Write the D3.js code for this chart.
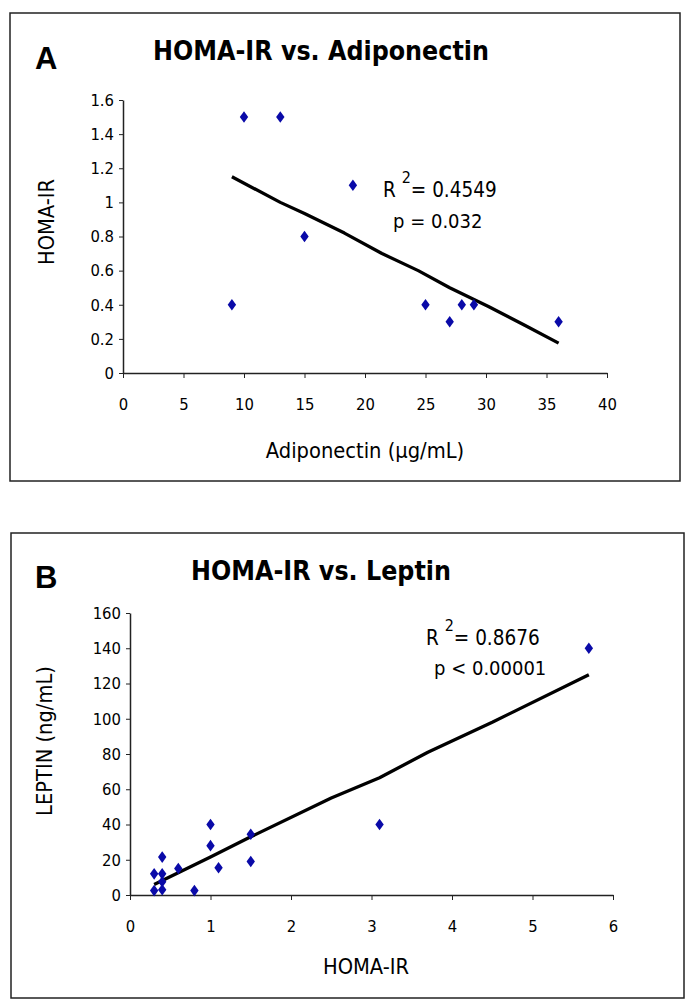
<!DOCTYPE html>
<html>
<head>
<meta charset="utf-8">
<script src="https://cdn.jsdelivr.net/npm/d3@7"></script>
<style>
  body { margin: 0; background: #fff; }
  svg { display: block; }
  text { font-family: "Liberation Sans Narrow", "DejaVu Sans Condensed", "Liberation Sans", sans-serif; fill: #000; }
</style>
</head>
<body>
<svg id="chart" width="688" height="1005"></svg>
<script>
// ---- Panel A data: HOMA-IR vs. Adiponectin ----
const adipoX = [9, 10, 13, 15, 19, 25, 27, 28, 29, 36];
const homaA  = [0.4, 1.5, 1.5, 0.8, 1.1, 0.4, 0.3, 0.4, 0.4, 0.3];
const trendAX = [9, 13, 15, 18.3, 21.4, 24.4, 27, 30.2, 33.2, 36];
const trendAY = [1.15, 1.0, 0.935, 0.82, 0.70, 0.60, 0.50, 0.39, 0.28, 0.175];
const ticksAX = [0, 5, 10, 15, 20, 25, 30, 35, 40];
const ticksAY = [0, 0.2, 0.4, 0.6, 0.8, 1, 1.2, 1.4, 1.6];

// ---- Panel B data: HOMA-IR vs. Leptin ----
const homaB   = [0.3, 0.3, 0.4, 0.4, 0.4, 0.4, 0.6, 0.8, 1.0, 1.0, 1.1, 1.5, 1.5, 3.1, 5.7];
const leptinB = [12, 2.5, 21.5, 12, 7.5, 3, 15, 2.5, 40, 28, 15.5, 34.5, 19, 40, 140];
const trendBX = [0.3, 1.0, 1.5, 2.5, 3.1, 3.7, 4.5, 5.7];
const trendBY = [6, 21.5, 33, 55, 66.5, 81, 98, 125];
const ticksBX = [0, 1, 2, 3, 4, 5, 6];
const ticksBY = [0, 20, 40, 60, 80, 100, 120, 140, 160];

const svg = d3.select("#chart");
const markerColor = "#0a0aa8";
const fontStack = '"Liberation Sans Narrow", "DejaVu Sans Condensed", "Liberation Sans", sans-serif';

function panel(cfg) {
  const g = svg.append("g");
  // frame
  g.append("rect").attr("x", cfg.frame[0]).attr("y", cfg.frame[1])
    .attr("width", cfg.frame[2] - cfg.frame[0]).attr("height", cfg.frame[3] - cfg.frame[1])
    .attr("fill", "none").attr("stroke", "#222").attr("stroke-width", 1.5);

  const x = d3.scaleLinear().domain(cfg.xDomain).range(cfg.xRange);
  const y = d3.scaleLinear().domain(cfg.yDomain).range(cfg.yRange);

  // x axis
  const xa = g.append("g").attr("transform", `translate(0,${cfg.yRange[0]})`)
    .call(d3.axisBottom(x).tickValues(cfg.xTicks).tickSize(5).tickSizeOuter(0).tickPadding(16).tickFormat(d3.format("")));
  // y axis
  const ya = g.append("g").attr("transform", `translate(${cfg.xRange[0]},0)`)
    .call(d3.axisLeft(y).tickValues(cfg.yTicks).tickSize(4).tickSizeOuter(0).tickPadding(5).tickFormat(d3.format("")));
  [xa, ya].forEach(a => {
    a.select(".domain").attr("stroke", "#222").attr("stroke-width", 1.5);
    a.selectAll(".tick line").attr("stroke", "#222").attr("stroke-width", 1);
    a.selectAll(".tick text").attr("font-size", 16.5).attr("fill", "#000")
      .style("font-family", fontStack);
  });
  xa.selectAll(".tick text").attr("dy", "0.95em");

  // trend line
  const line = d3.line().x(d => x(d[0])).y(d => y(d[1]));
  g.append("path").datum(cfg.trendX.map((v, i) => [v, cfg.trendY[i]]))
    .attr("d", line).attr("fill", "none").attr("stroke", "#000").attr("stroke-width", 3.3)
    .attr("stroke-linejoin", "round");

  // points (diamonds)
  g.selectAll("path.pt").data(cfg.px.map((v, i) => [v, cfg.py[i]])).enter()
    .append("path").attr("class", "pt")
    .attr("d", "M0,-5.8L4.2,0L0,5.8L-4.2,0Z")
    .attr("transform", d => `translate(${x(d[0])},${y(d[1])})`)
    .attr("fill", markerColor);

  // letter
  g.append("text").attr("x", 35).attr("y", cfg.letterY).text(cfg.letter)
    .attr("font-size", 31).attr("font-weight", "bold")
    .style("font-family", '"Liberation Sans", sans-serif');
  // title
  g.append("text").attr("x", cfg.titleX).attr("y", cfg.titleY).attr("text-anchor", "middle")
    .attr("font-size", 26.5).attr("font-weight", "bold").text(cfg.title);
  // axis labels
  g.append("text").attr("x", cfg.xLabelX).attr("y", cfg.xLabelY).attr("text-anchor", "middle")
    .attr("font-size", 21.7).text(cfg.xLabel);
  g.append("text").attr("transform", `translate(${cfg.yLabelX},${cfg.yLabelY}) rotate(-90)`)
    .attr("text-anchor", "middle").attr("font-size", 21.7).text(cfg.yLabel);

  // stats text
  const r = g.append("text").attr("x", cfg.rX).attr("y", cfg.rY).attr("font-size", 20.5);
  r.append("tspan").text("R ");
  r.append("tspan").attr("dy", -14).attr("font-size", 16).text("2");
  r.append("tspan").attr("dy", 14).text("= " + cfg.r2);
  g.append("text").attr("x", cfg.pX).attr("y", cfg.pY).attr("font-size", 20).text(cfg.p);
}

panel({
  frame: [10, 13, 680, 481],
  xDomain: [0, 40], xRange: [123, 607],
  yDomain: [0, 1.6], yRange: [373, 100],
  xTicks: ticksAX, yTicks: ticksAY,
  px: adipoX, py: homaA, trendX: trendAX, trendY: trendAY,
  letter: "A", letterY: 69,
  title: "HOMA-IR vs. Adiponectin", titleX: 321, titleY: 60,
  xLabel: "Adiponectin (µg/mL)", xLabelX: 365, xLabelY: 458,
  yLabel: "HOMA-IR", yLabelX: 54, yLabelY: 222,
  r2: "0.4549", rX: 383, rY: 197,
  p: "p = 0.032", pX: 393, pY: 228
});

panel({
  frame: [11, 533, 684, 998],
  xDomain: [0, 6], xRange: [130, 613],
  yDomain: [0, 160], yRange: [895, 613],
  xTicks: ticksBX, yTicks: ticksBY,
  px: homaB, py: leptinB, trendX: trendBX, trendY: trendBY,
  letter: "B", letterY: 588,
  title: "HOMA-IR vs. Leptin", titleX: 321, titleY: 580,
  xLabel: "HOMA-IR", xLabelX: 366, xLabelY: 974,
  yLabel: "LEPTIN (ng/mL)", yLabelX: 52, yLabelY: 741,
  r2: "0.8676", rX: 426, rY: 645,
  p: "p < 0.00001", pX: 434, pY: 675
});
</script>
</body>
</html>
